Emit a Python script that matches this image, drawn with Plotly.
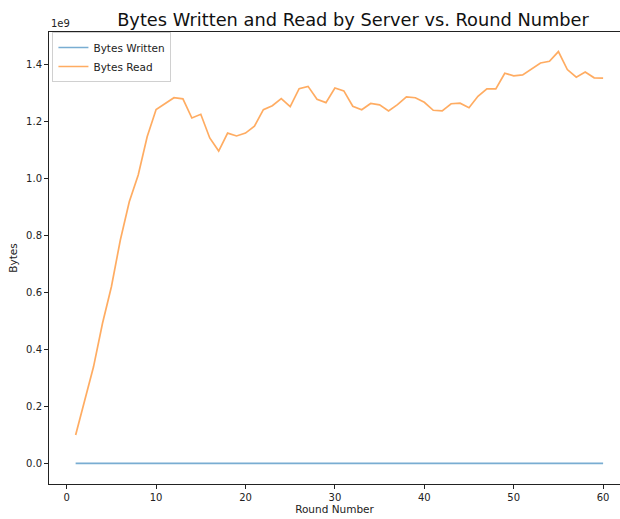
import plotly.graph_objects as go

rounds = list(range(1, 61))

bytes_read_e9 = [
    0.101, 0.223, 0.340, 0.492, 0.621, 0.785, 0.919, 1.013, 1.147, 1.243,
    1.264, 1.284, 1.280, 1.213, 1.226, 1.143, 1.097, 1.160, 1.150, 1.160,
    1.184, 1.242, 1.256, 1.281, 1.253, 1.316, 1.324, 1.279, 1.267, 1.318,
    1.308, 1.254, 1.242, 1.264, 1.259, 1.238, 1.260, 1.287, 1.284, 1.268,
    1.240, 1.238, 1.263, 1.265, 1.249, 1.289, 1.315, 1.315, 1.370, 1.361,
    1.364, 1.384, 1.406, 1.412, 1.446, 1.383, 1.356, 1.374, 1.354, 1.353,
]
bytes_written_e9 = [
    0.001, 0.001, 0.001, 0.001, 0.001, 0.001, 0.001, 0.001, 0.001, 0.001,
    0.001, 0.001, 0.001, 0.001, 0.001, 0.001, 0.001, 0.001, 0.001, 0.001,
    0.001, 0.001, 0.001, 0.001, 0.001, 0.001, 0.001, 0.001, 0.001, 0.001,
    0.001, 0.001, 0.001, 0.001, 0.001, 0.001, 0.001, 0.001, 0.001, 0.001,
    0.001, 0.001, 0.001, 0.001, 0.001, 0.001, 0.001, 0.001, 0.001, 0.001,
    0.001, 0.001, 0.001, 0.001, 0.001, 0.001, 0.001, 0.001, 0.001, 0.001,
]
bytes_read = [v * 1e9 for v in bytes_read_e9]
bytes_written = [v * 1e9 for v in bytes_written_e9]

y_tick_vals = [0.0, 0.2e9, 0.4e9, 0.6e9, 0.8e9, 1.0e9, 1.2e9, 1.4e9]
y_tick_text = ["0.0", "0.2", "0.4", "0.6", "0.8", "1.0", "1.2", "1.4"]
x_tick_vals = [0, 10, 20, 30, 40, 50, 60]

FONT = "DejaVu Sans"

fig = go.Figure()
fig.add_trace(go.Scatter(
    x=rounds, y=bytes_written, mode="lines", name="Bytes Written",
    line=dict(color="rgba(31,119,180,0.6)", width=1.6),
))
fig.add_trace(go.Scatter(
    x=rounds, y=bytes_read, mode="lines", name="Bytes Read",
    line=dict(color="rgba(255,127,14,0.65)", width=1.7),
))

fig.update_layout(
    width=620, height=519,
    margin=dict(l=49, r=0, t=32, b=35),
    paper_bgcolor="white", plot_bgcolor="white",
    font=dict(family=FONT, size=10, color="#222"),
    title=dict(
        text="Bytes Written and Read by Server vs. Round Number",
        font=dict(family=FONT, size=17.8, color="#111"),
        x=353 / 620, xref="container", xanchor="center",
        y=1 - 20 / 519, yref="container", yanchor="middle",
    ),
    showlegend=True,
    legend=dict(
        x=0.006, y=1.0, xanchor="left", yanchor="top",
        bgcolor="rgba(255,255,255,0.8)", bordercolor="#d0d0d0", borderwidth=1,
        font=dict(family=FONT, size=10.5, color="#222"),
        itemwidth=30, tracegroupgap=0,
    ),
    xaxis=dict(
        range=[-1.98, 61.89], tickvals=x_tick_vals,
        showgrid=False, zeroline=False,
        showline=True, linecolor="#222", linewidth=1, mirror=True,
        ticks="outside", ticklen=4, tickcolor="#222",
        title=dict(text="Round Number", font=dict(size=10.5), standoff=3),
    ),
    yaxis=dict(
        range=[-0.0712e9, 1.5147e9], tickvals=y_tick_vals, ticktext=y_tick_text,
        showgrid=False, zeroline=False,
        showline=True, linecolor="#222", linewidth=1,
        ticks="outside", ticklen=4, tickcolor="#222",
        title=dict(text="Bytes", font=dict(size=10.5), standoff=6),
    ),
)

fig.add_annotation(
    text="1e9", xref="paper", yref="paper", x=0, y=1,
    xanchor="left", yanchor="bottom", showarrow=False,
    font=dict(family=FONT, size=10, color="#222"), yshift=1,
)

fig.write_html("out.html")
